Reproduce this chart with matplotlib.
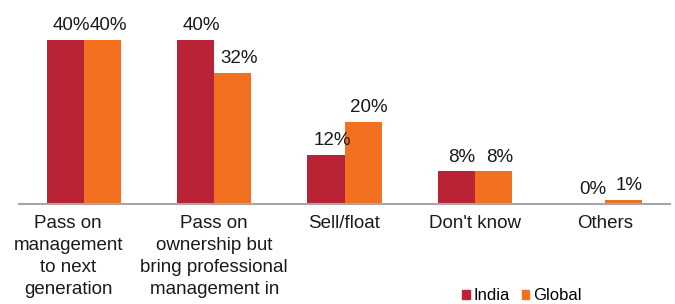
import matplotlib
matplotlib.use("Agg")
import matplotlib.pyplot as plt
import matplotlib.transforms as mtransforms
from matplotlib.patches import Patch
import numpy as np

categories = ["Pass on\nmanagement\nto next\ngeneration",
              "Pass on\nownership but\nbring professional\nmanagement in",
              "Sell/float", "Don't know", "Others"]
india = [40, 40, 12, 8, 0]
global_ = [40, 32, 20, 8, 1]
series_names = ["India", "Global"]

RED = "#BA2236"
ORANGE = "#F37021"
FS = 13.5

plt.rcParams['font.family'] = ['Liberation Sans', 'DejaVu Sans']

fig = plt.figure(figsize=(6.75, 3.04), dpi=100)
ax = fig.add_axes([19/675, 100/304, 651/675, 204/304])

x = np.arange(len(categories))
w = 0.285
b1 = ax.bar(x - w/2, india, w, color=RED)
b2 = ax.bar(x + w/2, global_, w, color=ORANGE)

ax.set_xlim(-0.5, len(categories) - 0.5)
ax.set_ylim(0, 49.76)

for bars, vals in ((b1, india), (b2, global_)):
    for r, v in zip(bars, vals):
        ax.annotate(f"{v}%", (r.get_x() + r.get_width()/2, r.get_height()),
                    xytext=(4.3, 4.0), textcoords="offset points",
                    ha="center", va="bottom", fontsize=FS, color="#1a1a1a")

ax.set_xticks(x)
ax.set_xticklabels(categories, fontsize=FS, color="#1a1a1a", linespacing=1.38)
ax.tick_params(axis="x", length=0, pad=8)
ax.set_yticks([])
for s in ("top", "right", "left"):
    ax.spines[s].set_visible(False)
ax.spines["bottom"].set_color("#A6A6A6")
ax.spines["bottom"].set_linewidth(1.5)

# first label is shifted left in the reference
lab0 = ax.get_xticklabels()[0]
lab0.set_transform(lab0.get_transform() + mtransforms.ScaledTranslation(-16/100, 0, fig.dpi_scale_trans))

handles = [Patch(color=RED), Patch(color=ORANGE)]
fig.legend(handles, series_names, ncol=2, frameon=False, fontsize=12,
           loc="center", bbox_to_anchor=(522/675, 1 - 296/304),
           handlelength=0.45, handleheight=0.45, handletextpad=0.25,
           columnspacing=0.7, borderpad=0, borderaxespad=0)

fig.savefig("out.png", dpi=100)
